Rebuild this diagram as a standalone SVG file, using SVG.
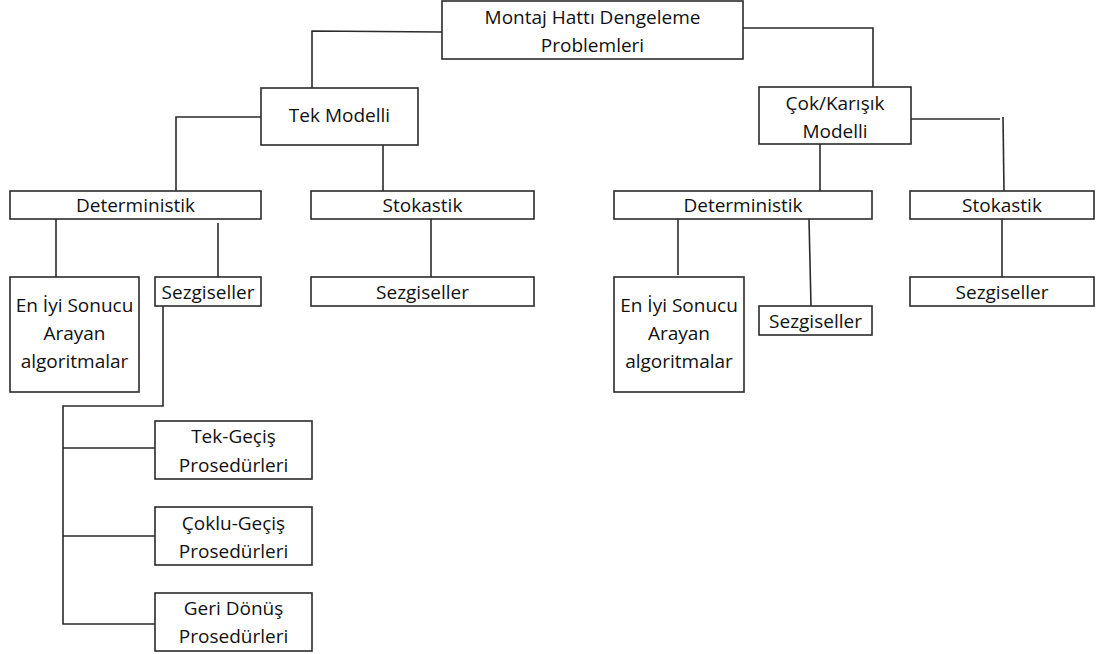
<svg xmlns="http://www.w3.org/2000/svg" width="1096" height="654" viewBox="0 0 1096 654">
<style>
.box{fill:#fff;stroke:#2b2b2b;stroke-width:1.6}
.ln{fill:none;stroke:#2b2b2b;stroke-width:1.6}
text{font-family:"Open Sans","Liberation Sans",sans-serif;font-size:19px;fill:#111;text-anchor:middle}
</style>
<rect width="1096" height="654" fill="#fff"/>
<g id="connectors">
<path class="ln" d="M442 32 L312 31 L312 88"/>
<path class="ln" d="M743 28 L873 28 L873 87"/>
<path class="ln" d="M261 117 L176 117 L176 191"/>
<path class="ln" d="M383 145 L383 191"/>
<path class="ln" d="M820 144 L820 191"/>
<path class="ln" d="M911 119 L1000 119"/>
<path class="ln" d="M1003 117 L1004 191"/>
<path class="ln" d="M56 219 L56 277"/>
<path class="ln" d="M218 223 L218 277"/>
<path class="ln" d="M431 219 L431 277"/>
<path class="ln" d="M678 219 L678 275"/>
<path class="ln" d="M809 219 L811 306"/>
<path class="ln" d="M1002 219 L1002 277"/>
<path class="ln" d="M163 306 L163 406 L63 406 L63 624 L155 624"/>
<path class="ln" d="M63 448 L155 448"/>
<path class="ln" d="M63 536 L155 536"/>
</g>
<g id="n-root"><rect class="box" x="442" y="1" width="301" height="58"/><text x="592.5" y="24">Montaj Hattı Dengeleme</text><text x="592.5" y="52">Problemleri</text></g>
<g id="n-tek"><rect class="box" x="261" y="88" width="157" height="57"/><text x="339.5" y="122">Tek Modelli</text></g>
<g id="n-cok"><rect class="box" x="759" y="87" width="152" height="57"/><text x="835" y="110">Çok/Karışık</text><text x="835" y="138">Modelli</text></g>
<g id="n-det-l"><rect class="box" x="10" y="191" width="251" height="28"/><text x="135.5" y="212">Deterministik</text></g>
<g id="n-stok-l"><rect class="box" x="311" y="191" width="223" height="28"/><text x="422.5" y="212">Stokastik</text></g>
<g id="n-det-r"><rect class="box" x="614" y="191" width="258" height="28"/><text x="743" y="212">Deterministik</text></g>
<g id="n-stok-r"><rect class="box" x="910" y="191" width="184" height="28"/><text x="1002" y="212">Stokastik</text></g>
<g id="n-eniyi-l"><rect class="box" x="10" y="277" width="129" height="115"/><text x="74.5" y="312">En İyi Sonucu</text><text x="74.5" y="340">Arayan</text><text x="74.5" y="368">algoritmalar</text></g>
<g id="n-sezg-l"><rect class="box" x="155" y="277" width="106" height="29"/><text x="208" y="299">Sezgiseller</text></g>
<g id="n-sezg-stok-l"><rect class="box" x="311" y="277" width="223" height="29"/><text x="422.5" y="299">Sezgiseller</text></g>
<g id="n-eniyi-r"><rect class="box" x="614" y="277" width="130" height="115"/><text x="679" y="312">En İyi Sonucu</text><text x="679" y="340">Arayan</text><text x="679" y="368">algoritmalar</text></g>
<g id="n-sezg-r"><rect class="box" x="759" y="306" width="113" height="29"/><text x="815.5" y="328">Sezgiseller</text></g>
<g id="n-sezg-stok-r"><rect class="box" x="910" y="277" width="184" height="29"/><text x="1002" y="299">Sezgiseller</text></g>
<g id="n-tekgecis"><rect class="box" x="155" y="421" width="157" height="58"/><text x="233.5" y="443">Tek-Geçiş</text><text x="233.5" y="472">Prosedürleri</text></g>
<g id="n-coklugecis"><rect class="box" x="155" y="507" width="157" height="58"/><text x="233.5" y="530">Çoklu-Geçiş</text><text x="233.5" y="558">Prosedürleri</text></g>
<g id="n-geridonus"><rect class="box" x="155" y="593" width="157" height="58"/><text x="233.5" y="615">Geri Dönüş</text><text x="233.5" y="643">Prosedürleri</text></g>
</svg>
